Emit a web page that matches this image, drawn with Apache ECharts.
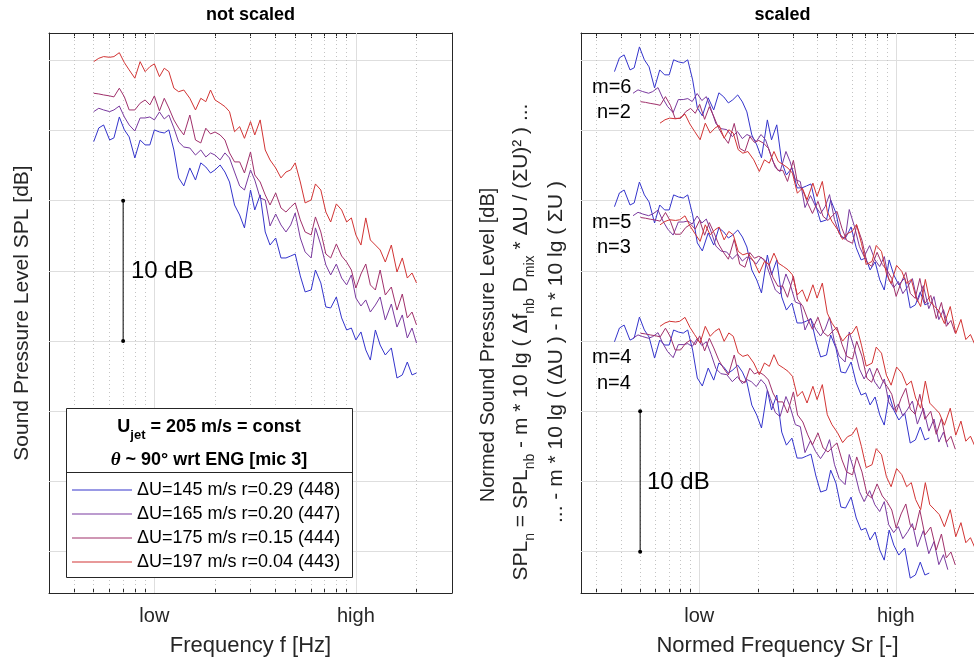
<!DOCTYPE html>
<html><head><meta charset="utf-8">
<script src="https://cdn.jsdelivr.net/npm/echarts@6/dist/echarts.min.js"></script>
<style>html,body{margin:0;padding:0;background:#fff}#c{width:974px;height:662px}</style>
</head><body><div id="c"></div>
<script>
// ---- data ----
// frequency (relative units: "low" = 1, "high" = 10)
const freq = [0.50,0.53,0.56,0.60,0.63,0.67,0.71,0.75,0.80,0.85,
0.90,0.95,1.00,1.06,1.12,1.18,1.25,1.32,1.40,1.50,
1.60,1.70,1.80,1.90,2.00,2.12,2.24,2.36,2.50,2.65,
2.80,3.00,3.15,3.35,3.55,3.75,4.00,4.25,4.50,4.75,
5.00,5.30,5.60,6.00,6.30,6.70,7.10,7.50,8.00,8.50,
9.00,9.50,10.0,10.6,11.2,11.8,12.5,13.2,14.0,15.0,
16.0,17.0,18.0,19.0,20.0];
// SPL [dB] (arbitrary reference)
const spl145 = [29.20,30.18,30.39,29.32,29.47,30.96,30.04,29.54,28.04,29.32,
28.97,28.97,30.04,29.89,29.82,30.04,28.61,26.62,26.05,27.33,
26.47,27.69,27.40,26.97,27.19,27.54,27.04,26.33,24.69,23.98,
23.06,25.76,24.34,25.41,22.77,21.84,22.34,20.92,20.92,21.06,
21.20,19.64,18.50,18.64,20.06,19.14,17.43,17.36,18.14,16.65,
15.79,15.93,15.08,15.65,14.37,13.65,15.79,14.72,14.01,14.51,
12.37,12.59,13.51,12.59,12.73];
const spl165 = [31.34,31.58,31.46,31.34,31.46,31.74,30.96,30.39,29.96,30.89,
30.89,30.96,30.75,31.32,30.82,31.10,30.18,29.18,28.82,28.75,
28.25,28.61,28.11,28.40,28.25,27.90,28.40,28.04,27.04,26.05,
25.76,27.19,26.47,25.19,25.05,23.20,24.05,23.27,22.77,23.27,
24.12,22.34,21.35,20.92,23.06,21.84,20.42,19.71,20.49,19.49,
19.00,19.71,18.07,17.50,17.93,17.07,17.57,18.14,16.50,17.64,
16.00,16.86,15.22,15.93,14.86];
const spl175 = [32.65,32.60,32.53,32.46,32.39,33.01,32.39,31.46,31.46,31.94,
32.17,31.82,32.46,31.39,32.29,31.60,30.75,30.18,29.68,31.10,
29.32,29.11,30.16,29.75,29.89,29.68,29.32,28.40,27.76,27.76,
26.97,28.47,26.83,26.33,25.41,24.69,25.55,24.48,24.19,24.55,
24.84,23.63,22.77,22.56,23.84,22.77,21.20,20.92,21.92,21.06,
20.63,20.06,18.78,19.78,20.49,19.00,18.64,20.06,18.28,18.85,
17.21,18.35,16.65,17.07,16.15];
const spl197 = [34.90,35.14,35.26,35.21,35.26,35.54,34.83,34.31,33.72,34.90,
34.19,34.54,34.74,33.83,34.43,34.19,33.01,32.76,32.88,32.29,
31.46,32.29,32.05,32.88,32.17,31.94,31.70,31.34,29.91,30.27,
29.44,30.63,29.68,30.75,28.61,27.90,27.33,26.62,27.04,27.19,
27.69,26.33,24.84,25.05,26.19,25.76,24.19,23.48,24.77,24.34,
23.48,23.77,22.56,21.84,23.77,22.20,21.84,21.49,20.63,21.84,
19.92,20.92,19.49,19.85,19.14];
const seriesNames = ['\u0394U=145 m/s r=0.29 (448)','\u0394U=165 m/s r=0.20 (447)','\u0394U=175 m/s r=0.15 (444)','\u0394U=197 m/s r=0.04 (443)'];
const seriesSpl = [spl145, spl165, spl175, spl197];
// scaled panel: Strouhal per unit frequency for each case
const srPerFreq = [0.740, 0.920, 1.004, 1.262];
// scaled panel: level offsets [dB] of each case for the three (m,n) groups
const groupLabels = [['m=6','n=2'],['m=5','n=3'],['m=4','n=4']];
const offsetM6N2 = [4.99, 1.31, -0.60, -4.38];
const offsetM5N3 = [-4.63, -7.41, -8.85, -11.62];
const offsetM4N4 = [-14.25, -16.14, -17.09, -18.85];
const groupOffsets = [offsetM6N2, offsetM5N3, offsetM4N4];
// axes
const xTicksLeft = [0.4,0.5,0.6,0.7,0.8,0.9,1,2,3,4,5,6,7,8,9,10,20];
const xTicksRight = [0.3,0.4,0.5,0.6,0.7,0.8,0.9,1,2,3,4,5,6,7,8,9,10,20];
const xMinorLeft = [0.4,0.5,0.6,0.7,0.8,0.9,2,3,4,5,6,7,8,9,20];
const xMinorRight = [0.3,0.4,0.5,0.6,0.7,0.8,0.9,2,3,4,5,6,7,8,9,20];
const xMajor = [1,10];
const xLabelText = {1:'low', 10:'high'};
const yTicks = [0,5,10,15,20,25,30,35];
const scaleBarLeft = [[0.7,15],[0.7,25]];
const scaleBarRight = [[0.5,0],[0.5,10]];

const colors = ['#3434cc','#7a3a9f','#a0306b','#d23434'];
const FONT = '"Liberation Sans", Arial, Helvetica, sans-serif';
const AX = '#262626';

const chart = echarts.init(document.getElementById('c'), null, {renderer:'canvas'});

function xAxisDef(grid, pos, min, max, ticks, withLabel, name) {
  return {
    type:'log', logBase:10, gridIndex:grid, position:pos, min:min, max:max,
    axisLine:{show:true, onZero:false, lineStyle:{color:AX, width:1}},
    axisTick:{show:true, inside:true, length:5, customValues:ticks, lineStyle:{color:AX, width:1}},
    minorTick:{show:false}, splitLine:{show:false},
    axisLabel: withLabel ? {show:true, customValues:xMajor, margin:13, fontSize:20, color:AX, fontFamily:FONT,
      formatter: function(v){ return Math.log10(v) < 0.5 ? xLabelText[1] : xLabelText[10]; }} : {show:false},
    name: name || '', nameLocation:'middle', nameGap:42,
    nameTextStyle:{fontSize:22, color:AX, fontFamily:FONT}
  };
}
function yAxisDef(grid, pos) {
  return {
    type:'value', gridIndex:grid, position:pos, min:-2.94, max:36.94,
    axisLine:{show:true, onZero:false, lineStyle:{color:AX, width:1}},
    axisTick:{show:true, inside:true, length:5, customValues:yTicks, lineStyle:{color:AX, width:1}},
    axisLabel:{show:false}, splitLine:{show:false}
  };
}
function gridLines(minorVals) {
  const d = [];
  yTicks.forEach(v => d.push({yAxis:v, lineStyle:{color:'#dedede', width:1, type:'solid'}}));
  xMajor.forEach(v => d.push({xAxis:v, lineStyle:{color:'#dedede', width:1, type:'solid'}}));
  minorVals.forEach(v => d.push({xAxis:v, lineStyle:{color:'#c4c4c4', width:1, type:[1,3]}}));
  return {silent:true, symbol:'none', label:{show:false}, z:1, animation:false, emphasis:{disabled:true}, data:d};
}

const series = [];
// gridline holders
series.push({type:'line', xAxisIndex:0, yAxisIndex:0, data:[], markLine:gridLines(xMinorLeft)});
series.push({type:'line', xAxisIndex:2, yAxisIndex:2, data:[], markLine:gridLines(xMinorRight)});
// unscaled spectra
seriesSpl.forEach((spl, k) => {
  series.push({name:seriesNames[k], type:'line', xAxisIndex:0, yAxisIndex:0, showSymbol:false, symbol:'none',
    lineStyle:{width:1, color:colors[k]}, itemStyle:{color:colors[k]}, z:3, silent:true,
    data: freq.map((f,i) => [f, spl[i]])});
});
// scaled spectra
groupOffsets.forEach((off, g) => {
  seriesSpl.forEach((spl, k) => {
    series.push({name:seriesNames[k], type:'line', xAxisIndex:2, yAxisIndex:2, showSymbol:false, symbol:'none',
      lineStyle:{width:1, color:colors[k]}, itemStyle:{color:colors[k]}, z:3, silent:true,
      data: freq.map((f,i) => [f*srPerFreq[k], spl[i] + off[k]])});
  });
});
// 10 dB scale bars
series.push({type:'line', xAxisIndex:0, yAxisIndex:0, data:scaleBarLeft, symbol:'circle', symbolSize:4,
  lineStyle:{color:'#000', width:1}, itemStyle:{color:'#000'}, z:4, silent:true});
series.push({type:'line', xAxisIndex:2, yAxisIndex:2, data:scaleBarRight, symbol:'circle', symbolSize:4,
  lineStyle:{color:'#000', width:1}, itemStyle:{color:'#000'}, z:4, silent:true});

function T(x, y, text, st, rot) {
  const el = {type:'text', x:x, y:y, z:30, style:Object.assign({text:text, fill:'#000', fontSize:16, fontFamily:FONT,
    align:'left', verticalAlign:'middle'}, st)};
  if (rot) el.rotation = rot;
  return el;
}
const subRich = {s:{fontSize:14, fontFamily:FONT, fill:AX, verticalAlign:'bottom', lineHeight:14}};
const graphics = [
  T(250.5, 15, 'not scaled', {fontSize:18, fontWeight:'bold', align:'center'}),
  T(782.5, 15, 'scaled', {fontSize:18, fontWeight:'bold', align:'center'}),
  T(131, 271, '10 dB', {fontSize:24}),
  T(647, 482, '10 dB', {fontSize:24}),
  T(592, 87, groupLabels[0][0], {fontSize:20}), T(597, 112, groupLabels[0][1], {fontSize:20}),
  T(592, 222, groupLabels[1][0], {fontSize:20}), T(597, 247, groupLabels[1][1], {fontSize:20}),
  T(592, 357, groupLabels[2][0], {fontSize:20}), T(597, 383, groupLabels[2][1], {fontSize:20}),
  // y labels
  T(22, 313, 'Sound Pressure Level SPL [dB]', {fontSize:21, fill:AX, align:'center'}, Math.PI/2),
  T(488, 345, 'Normed Sound Pressure Level [dB]', {fontSize:20, fill:AX, align:'center'}, Math.PI/2),
  T(521, 342, 'SPL{s|n} = SPL{s|nb} - m * 10 lg ( \u0394f{s|nb} D{s|mix} * \u0394U / (\u03a3U)\u00b2 ) ...',
    {fontSize:21, fill:AX, align:'center', lineHeight:32, rich:subRich}, Math.PI/2),
  T(556, 352, '... - m * 10 lg ( (\u0394U ) - n * 10 lg ( \u03a3U )', {fontSize:21, fill:AX, align:'center'}, Math.PI/2),
  // legend box
  {type:'rect', z:10, shape:{x:66.5, y:408.5, width:286, height:169}, style:{fill:'#fff', stroke:AX, lineWidth:1}},
  {type:'line', z:11, shape:{x1:66.5, y1:472.5, x2:352.5, y2:472.5}, style:{stroke:AX, lineWidth:1}},
  T(209, 427, 'U{s|jet} = 205 m/s = const', {fontSize:18, fontWeight:'bold', align:'center', lineHeight:30,
    rich:{s:{fontSize:13, fontWeight:'bold', fontFamily:FONT, verticalAlign:'bottom', lineHeight:13}}}),
  T(209, 460, '{t|\u03b8} ~ 90\u00b0 wrt ENG [mic 3]', {fontSize:18, fontWeight:'bold', align:'center',
    rich:{t:{fontSize:19, fontWeight:'bold', fontStyle:'italic', fontFamily:'"Liberation Serif", "DejaVu Serif", serif'}}})
];

chart.setOption({
  animation:false,
  backgroundColor:'#fff',
  textStyle:{fontFamily:FONT},
  grid:[
    {left:49, top:33, width:403, height:560, containLabel:false},
    {left:581, top:33, width:403, height:560, containLabel:false}
  ],
  xAxis:[
    xAxisDef(0,'bottom',0.3,30,xTicksLeft,true,'Frequency f [Hz]'),
    xAxisDef(0,'top',0.3,30,xTicksLeft,false),
    xAxisDef(1,'bottom',0.25,25,xTicksRight,true,'Normed Frequency Sr [-]'),
    xAxisDef(1,'top',0.25,25,xTicksRight,false)
  ],
  yAxis:[ yAxisDef(0,'left'), yAxisDef(0,'right'), yAxisDef(1,'left'), yAxisDef(1,'right') ],
  legend:{data:seriesNames, left:67, top:476, orient:'vertical', itemWidth:60, itemHeight:18, itemGap:6,
    selectedMode:false, z:20, textStyle:{fontSize:18, color:'#000', fontFamily:FONT}, icon:'path://M0,0 L60,0 L60,1 L0,1 Z'},
  graphic:graphics,
  series:series
});
</script></body></html>
